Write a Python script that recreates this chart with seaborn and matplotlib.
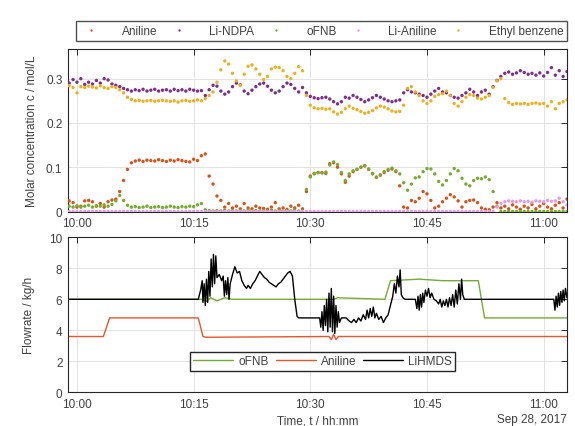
import numpy as np
import pandas as pd
import seaborn as sns
from matplotlib import pyplot as plt

# sample times in minutes after 10:00 (top panel, one sample every 30 s)
t_conc = np.arange(-1.0, 63.01, 0.5)

li_ndpa = [
    0.290, 0.298, 0.292, 0.300, 0.287, 0.292, 0.288, 0.296, 0.290, 0.300,
    0.297, 0.288, 0.285, 0.282, 0.278, 0.275, 0.272, 0.275, 0.273, 0.276,
    0.272, 0.274, 0.276, 0.272, 0.274, 0.275, 0.272, 0.276, 0.273, 0.275,
    0.272, 0.276, 0.274, 0.272, 0.273, 0.262, 0.275, 0.285, 0.283, 0.272,
    0.265, 0.270, 0.282, 0.290, 0.286, 0.272, 0.266, 0.274, 0.282, 0.288,
    0.290, 0.283, 0.274, 0.268, 0.272, 0.282, 0.290, 0.287, 0.278, 0.270,
    0.280, 0.268, 0.260, 0.257, 0.255, 0.257, 0.258, 0.254, 0.248, 0.243,
    0.248, 0.258, 0.256, 0.262, 0.258, 0.253, 0.248, 0.252, 0.257, 0.262,
    0.258, 0.254, 0.250, 0.248, 0.250, 0.252, 0.268, 0.275, 0.270, 0.268,
    0.265, 0.262, 0.258, 0.265, 0.272, 0.278, 0.270, 0.268, 0.262, 0.258,
    0.256, 0.262, 0.268, 0.276, 0.270, 0.262, 0.270, 0.274, 0.265, 0.282,
    0.296, 0.305, 0.312, 0.315, 0.310, 0.313, 0.318, 0.314, 0.310, 0.312,
    0.308, 0.313, 0.306, 0.314, 0.325, 0.308, 0.318, 0.305, 0.316,
]
ethyl_benzene = [
    0.284, 0.280, 0.268, 0.282, 0.280, 0.283, 0.281, 0.279, 0.284, 0.280,
    0.278, 0.282, 0.280, 0.275, 0.268, 0.258, 0.253, 0.250, 0.251, 0.249,
    0.250, 0.251, 0.249, 0.250, 0.251, 0.250, 0.249, 0.250, 0.247, 0.250,
    0.251, 0.249, 0.250, 0.252, 0.250, 0.255, 0.262, 0.270, 0.292, 0.320,
    0.340, 0.333, 0.312, 0.295, 0.285, 0.310, 0.328, 0.331, 0.322, 0.310,
    0.298, 0.305, 0.322, 0.326, 0.325, 0.318, 0.305, 0.300, 0.312, 0.327,
    0.318, 0.262, 0.240, 0.234, 0.232, 0.233, 0.231, 0.232, 0.225, 0.220,
    0.224, 0.232, 0.238, 0.233, 0.230, 0.226, 0.222, 0.224, 0.228, 0.234,
    0.238, 0.236, 0.232, 0.227, 0.225, 0.226, 0.240, 0.278, 0.282, 0.270,
    0.262, 0.250, 0.244, 0.250, 0.260, 0.264, 0.266, 0.272, 0.262, 0.244,
    0.238, 0.248, 0.258, 0.264, 0.262, 0.256, 0.254, 0.258, 0.262, 0.280,
    0.295, 0.300, 0.255, 0.246, 0.242, 0.244, 0.243, 0.244, 0.242, 0.244,
    0.245, 0.243, 0.244, 0.238, 0.248, 0.232, 0.244, 0.248, 0.252,
]
aniline = [
    0.024, 0.020, 0.010, 0.012, 0.024, 0.025, 0.022, 0.012, 0.018, 0.010,
    0.022, 0.026, 0.028, 0.045, 0.070, 0.095, 0.110, 0.114, 0.116, 0.113,
    0.116, 0.115, 0.114, 0.117, 0.115, 0.113, 0.116, 0.114, 0.117, 0.115,
    0.113, 0.112, 0.118, 0.115, 0.126, 0.130, 0.080, 0.062, 0.035, 0.025,
    0.010, 0.018, 0.008, 0.012, 0.006, 0.018, 0.008, 0.006, 0.012, 0.008,
    0.007, 0.005, 0.010, 0.020, 0.006, 0.008, 0.005, 0.012, 0.008, 0.014,
    0.006, 0.045, 0.080, 0.086, 0.088, 0.088, 0.086, 0.108, 0.110, 0.100,
    0.085, 0.066, 0.080, 0.090, 0.095, 0.100, 0.103, 0.095, 0.085, 0.077,
    0.082, 0.088, 0.093, 0.096, 0.090, 0.058, 0.010, 0.008, 0.025, 0.022,
    0.030, 0.045, 0.040, 0.025, 0.008, 0.012, 0.022, 0.030, 0.038, 0.033,
    0.024, 0.010, 0.022, 0.025, 0.026, 0.020, 0.008, 0.005, 0.004, 0.010,
    0.020, 0.008, 0.012, 0.006, 0.015, 0.010, 0.005, 0.012, 0.008, 0.016,
    0.006, 0.012, 0.018, 0.010, 0.006, 0.014, 0.020, 0.008, 0.028,
]
ofnb = [
    0.012, 0.010, 0.013, 0.010, 0.012, 0.014, 0.010, 0.013, 0.012, 0.015,
    0.012, 0.016, 0.024, 0.036, 0.025, 0.014, 0.010, 0.011, 0.009, 0.010,
    0.012, 0.009, 0.010, 0.011, 0.009, 0.010, 0.012, 0.010, 0.009, 0.011,
    0.010, 0.012, 0.011, 0.015, 0.018, 0.004,
    0.002, 0.001, 0.002, 0.001, 0.003, 0.001, 0.002, 0.001, 0.002, 0.001,
    0.003, 0.001, 0.002, 0.001, 0.002, 0.001, 0.003, 0.001, 0.002, 0.001,
    0.002, 0.001, 0.003, 0.001, 0.002,
    0.050, 0.078, 0.085, 0.088, 0.087, 0.089, 0.105, 0.112, 0.106, 0.088,
    0.070, 0.085, 0.092, 0.095, 0.100, 0.104, 0.096, 0.086, 0.078, 0.083,
    0.090, 0.095, 0.098, 0.092, 0.085, 0.065, 0.048, 0.062, 0.076, 0.078,
    0.090, 0.097, 0.096, 0.085, 0.068, 0.060, 0.070, 0.085, 0.097, 0.092,
    0.075, 0.062, 0.058, 0.070, 0.075, 0.074, 0.078, 0.072, 0.045, 0.012,
] + [0.0] * 18
li_aniline = [0.0] * 110 + [
    0.010, 0.018, 0.022, 0.024, 0.023, 0.022, 0.024, 0.022, 0.023, 0.021,
    0.024, 0.023, 0.022, 0.025, 0.023, 0.024, 0.030, 0.022, 0.015,
]

# flowrates (bottom panel), breakpoints in minutes after 10:00
ofnb_flow_t = [-1.2, 16.0, 16.6, 17.2, 18.0, 19.0, 20.0, 33.0, 33.5, 39.6, 40.3,
               44.0, 47.0, 51.6, 52.4, 63.0]
ofnb_flow = [6.0, 6.0, 5.85, 6.1, 5.9, 6.1, 6.0, 6.0, 6.1, 6.0, 7.2,
             7.3, 7.2, 7.2, 4.8, 4.8]
aniline_flow_t = [-1.2, 3.4, 4.2, 15.6, 16.2, 16.6, 32.4, 32.7, 33.0, 33.3, 33.6, 63.0]
aniline_flow = [3.6, 3.6, 4.8, 4.8, 3.6, 3.55, 3.6, 3.4, 3.75, 3.4, 3.6, 3.6]
lihmds_t = [
    -1.2, 15.6, 15.9, 16.1, 16.2, 16.35, 16.5, 16.65, 16.8, 16.95, 17.1, 17.25,
    17.4, 17.55, 17.7, 17.85, 18.0, 18.3, 18.6, 18.8, 18.95, 19.1, 19.25, 19.4,
    19.55, 19.7, 20.0, 20.3, 20.6, 20.9, 21.2, 21.5, 21.8, 22.0, 22.3, 22.6,
    22.9, 23.2, 23.5, 23.8, 24.1, 24.4, 24.7, 25.0, 25.3, 25.6, 25.9, 26.2,
    26.5, 26.8, 27.1, 27.4, 27.7, 28.0, 28.3, 28.5, 31.2, 31.35, 31.5, 31.65,
    31.8, 31.95, 32.1, 32.25, 32.4, 32.55, 32.7, 32.85, 33.0, 33.15, 33.3, 33.45,
    33.6, 33.75, 34.0, 34.6, 35.0, 35.3, 35.6, 35.9, 36.2, 36.5, 36.8, 37.1,
    37.3, 37.5, 37.7, 37.9, 38.1, 38.3, 38.5, 38.8, 39.1, 39.4, 39.7, 40.0,
    40.3, 40.6, 40.8, 41.0, 41.2, 41.4, 41.55, 41.7, 41.9, 42.2, 43.5, 43.7,
    43.85, 44.0, 44.15, 44.3, 44.45, 44.6, 44.8, 45.0, 45.2, 45.4, 45.6, 45.9,
    46.2, 46.5, 46.7, 46.9, 47.1, 47.3, 47.5, 47.7, 47.9, 48.1, 48.3, 48.5,
    48.7, 48.9, 49.1, 49.3, 49.45, 49.6, 49.8, 61.3, 61.45, 61.6, 61.75, 61.9,
    62.05, 62.2, 62.35, 62.5, 62.65, 62.8, 63.0,
]
lihmds = [
    6.0, 6.0, 6.6, 7.2, 5.8, 7.0, 5.6, 7.3, 5.8, 7.8, 6.2, 8.6,
    6.8, 8.9, 7.0, 8.8, 7.4, 7.6, 7.2, 7.5, 6.2, 7.2, 6.3, 7.4,
    6.0, 7.0, 7.6, 8.1, 7.7, 7.8, 7.2, 6.9, 6.7, 6.9, 6.7, 7.0,
    7.2, 7.5, 7.8, 7.6, 7.4, 7.3, 7.1, 7.0, 6.9, 6.8, 7.0, 7.1,
    7.3, 7.5, 7.7, 7.8, 7.5, 6.0, 4.9, 4.8, 4.8, 4.2, 5.2, 4.0,
    5.6, 4.3, 6.0, 3.9, 6.4, 4.2, 6.7, 3.9, 6.2, 3.8, 5.6, 4.2,
    5.2, 4.5, 4.8, 4.8, 4.6, 4.5, 4.7, 4.5, 4.8, 4.6, 5.0, 4.7,
    5.3, 4.8, 5.4, 4.9, 5.5, 4.8, 5.1, 4.7, 4.9, 4.5, 4.8, 5.0,
    5.6, 6.2, 7.0, 6.4, 7.5, 6.8, 7.9, 6.3, 6.1, 6.0, 6.0, 5.4,
    6.2, 5.3, 6.3, 5.5, 6.4, 5.8, 6.6, 6.2, 6.7, 6.1, 6.4, 6.0,
    5.9, 5.7, 6.0, 5.5, 5.9, 5.6, 6.0, 5.5, 6.1, 5.6, 6.3, 5.5,
    6.6, 5.7, 7.0, 6.0, 7.3, 6.3, 6.0, 6.0, 5.3, 6.2, 5.5, 6.4,
    5.6, 6.5, 5.8, 6.6, 5.9, 6.7, 6.1,
]

species = ["Aniline", "Li-NDPA", "oFNB", "Li-Aniline", "Ethyl benzene"]
dot_colors = ["#D95319", "#7E2F8E", "#77AC30", "#E29DE2", "#EDB120"]
tick_min = [0, 15, 30, 45, 60]
tick_lbl = ["10:00", "10:15", "10:30", "10:45", "11:00"]

conc = pd.DataFrame({
    "t": np.tile(t_conc, 5),
    "c": aniline + li_ndpa + ofnb + li_aniline + ethyl_benzene,
    "species": np.repeat(species, len(t_conc)),
})

sns.set_style("whitegrid")
plt.rcParams['font.family'] = ['Liberation Sans', 'DejaVu Sans']
txt = '#404040'
plt.rcParams.update({'text.color': txt, 'axes.labelcolor': txt,
                     'xtick.color': txt, 'ytick.color': txt, 'font.size': 8.5})

fig = plt.figure(figsize=(5.75, 4.27), dpi=100)
ax1 = fig.add_axes([68 / 575, 1 - 212.5 / 427, 499 / 575, 162.5 / 427])
ax2 = fig.add_axes([68 / 575, 1 - 393.3 / 427, 499 / 575, 155 / 427])

sns.scatterplot(data=conc, x="t", y="c", hue="species", palette=dot_colors,
                s=6, linewidth=0, ax=ax1, legend=True, zorder=3)
ax1.set_ylim(0, 0.367)
ax1.set_yticks([0, 0.1, 0.2, 0.3])
ax1.set_yticklabels(["0", "0.1", "0.2", "0.3"])
ax1.set_ylabel("Molar concentration c / mol/L", labelpad=6)
h, l = ax1.get_legend_handles_labels()
ax1.legend(h, l, loc='lower left', bbox_to_anchor=(8 / 499, 1.0 + 8.5 / 162.5, 491 / 499, 21 / 162.5),
           mode='expand', ncol=5, frameon=True, fancybox=False, edgecolor='#262626',
           fontsize=8.5, markerscale=0.7, handletextpad=1.6, borderaxespad=0,
           columnspacing=1.0, borderpad=0.3)

flow_series = [(ofnb_flow_t, ofnb_flow, "oFNB", "#77AC30"),
               (aniline_flow_t, aniline_flow, "Aniline", "#E8562A"),
               (lihmds_t, lihmds, "LiHMDS", "black")]
for tt, vv, name, col in flow_series:
    sns.lineplot(x=tt, y=vv, ax=ax2, color=col, linewidth=1.0, label=name,
                 estimator=None, sort=False)
ax2.set_ylim(0, 10)
ax2.set_yticks(range(0, 11, 2))
ax2.set_ylabel("Flowrate / kg/h", labelpad=10)
ax2.set_xlabel("Time, t / hh:mm", labelpad=3)
ax2.legend(loc='center', bbox_to_anchor=(0.51, 0.2), ncol=3, frameon=True,
           fancybox=False, edgecolor='#262626', fontsize=8.5, handlelength=3.4,
           handletextpad=0.4, columnspacing=0.6, borderpad=0.3, framealpha=1)
ax2.text(1.0, -0.17, "Sep 28, 2017", transform=ax2.transAxes, ha='right',
         va='center', fontsize=8.5)

for ax in (ax1, ax2):
    ax.set_xlim(-1.15, 63.0)
    ax.set_xticks(tick_min)
    ax.set_xticklabels(tick_lbl)
    if ax is ax1:
        ax.set_xlabel("")
    ax.grid(True, color='#E3E3E3', linewidth=0.7)
    ax.tick_params(direction='in', length=4, width=0.7, top=True, right=True,
                   colors='#262626', labelcolor=txt, pad=4)
    for sp in ax.spines.values():
        sp.set_color('#262626')
        sp.set_linewidth(0.8)

fig.savefig("out.png", dpi=100)
